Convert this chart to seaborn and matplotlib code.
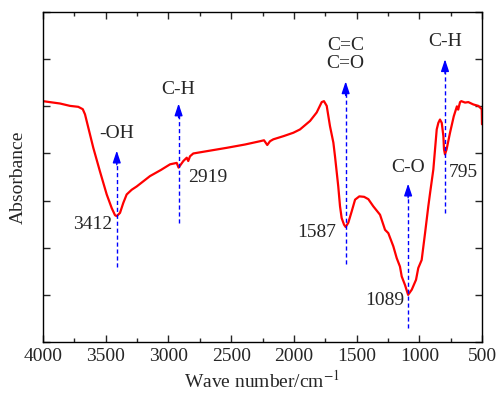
import matplotlib
matplotlib.use('Agg')
import matplotlib.pyplot as plt
from matplotlib.ticker import MultipleLocator, NullFormatter
import numpy as np
import pandas as pd
import seaborn as sns

# spectrum (wavenumber in cm-1, absorbance in arbitrary units)
wavenumber = [4000, 3864, 3785, 3719, 3683, 3665, 3639, 3599, 3546, 3492, 3452,
              3426, 3412, 3386, 3360, 3333, 3293, 3253, 3200, 3147, 3060, 2987,
              2934, 2919, 2881, 2854, 2842, 2828, 2802, 2669, 2535, 2390, 2270,
              2238, 2212, 2190, 2164, 2080, 2004, 1951, 1871, 1818, 1778, 1760,
              1738, 1712, 1685, 1672, 1646, 1632, 1619, 1600, 1587, 1566, 1539,
              1512, 1478, 1440, 1406, 1367, 1313, 1273, 1247, 1207, 1180, 1154,
              1140, 1114, 1089, 1060, 1026, 1008, 981, 954, 928, 914, 888, 861,
              848, 835, 821, 808, 803, 795, 782, 755, 725, 700, 690, 675, 665,
              635, 609, 569, 529, 502, 500]
absorbance = [5.11, 5.06, 5.01, 4.99, 4.94, 4.83, 4.55, 4.12, 3.62, 3.13, 2.84,
              2.69, 2.67, 2.74, 2.95, 3.13, 3.23, 3.30, 3.41, 3.52, 3.65, 3.77,
              3.80, 3.70, 3.84, 3.91, 3.84, 3.94, 4.00, 4.06, 4.12, 4.19, 4.26,
              4.28, 4.18, 4.26, 4.30, 4.37, 4.44, 4.51, 4.69, 4.87, 5.09, 5.11,
              5.01, 4.58, 4.23, 3.94, 3.30, 2.88, 2.63, 2.49, 2.44, 2.53, 2.77,
              3.02, 3.09, 3.08, 3.03, 2.88, 2.70, 2.38, 2.31, 2.03, 1.78, 1.60,
              1.39, 1.21, 1.00, 1.11, 1.32, 1.57, 1.74, 2.31, 2.88, 3.16, 3.66,
              4.51, 4.65, 4.72, 4.65, 4.37, 4.09, 3.98, 4.09, 4.44, 4.79, 5.00,
              4.93, 5.09, 5.11, 5.08, 5.09, 5.04, 5.01, 4.94, 4.62]

# marked peaks
peak_pos = [3412, 2919, 1587, 1089, 795]
peak_group = ['-OH', 'C-H', 'C=C\nC=O', 'C-O', 'C-H']

df = pd.DataFrame({'wn': wavenumber, 'abs': absorbance})

sns.set_theme(style='ticks')
plt.rcParams['font.family'] = ['Liberation Serif', 'DejaVu Serif']
plt.rcParams['mathtext.fontset'] = 'stix'

fig = plt.figure(figsize=(5, 4.03), dpi=100)
ax = fig.add_axes([0.086, 0.1514, 0.878, 0.8186])

sns.lineplot(data=df, x='wn', y='abs', color='#ff0000', linewidth=1.6, ax=ax,
             estimator=None, sort=False)

# layout of the annotations (line bottom, arrow tip, group label y, number label)
line_bottom = [1.60, 2.53, 1.66, 0.30, 2.74]
arrow_tip = [4.06, 5.06, 5.53, 3.36, 6.00]
group_y = [4.43, 5.36, 6.10, 3.70, 6.38]
num_xy = [(3450, 2.49, 'right'), (2844, 3.49, 'left'), (1664, 2.32, 'right'),
          (1122, 0.89, 'right'), (763, 3.60, 'left')]

for p, g, lb, tip, gy, (nx, ny, ha) in zip(peak_pos, peak_group, line_bottom,
                                           arrow_tip, group_y, num_xy):
    ax.plot([p, p], [lb, tip - 0.15], color='blue', lw=1, linestyle=(0, (3, 2)))
    ax.annotate('', xy=(p, tip), xytext=(p, tip - 0.3),
                arrowprops=dict(arrowstyle='-|>,head_length=0.6,head_width=0.2',
                                color='blue', lw=1, shrinkA=0, shrinkB=0))
    ax.text(p, gy, g, ha='center', va='center', fontsize=14, linespacing=1.15)
    ax.text(nx, ny, str(p), ha=ha, va='center', fontsize=14)

ax.set_xlim(4000, 500)
ax.set_ylim(0, 7)
ax.xaxis.set_major_locator(MultipleLocator(500))
ax.xaxis.set_minor_locator(MultipleLocator(250))
ax.yaxis.set_major_locator(MultipleLocator(1))
ax.yaxis.set_major_formatter(NullFormatter())
ax.tick_params(axis='both', which='major', direction='in', length=5, width=1,
               top=True, right=True, labelsize=14, pad=4)
ax.tick_params(axis='x', which='minor', direction='in', length=3, width=1,
               top=True)
for s in ax.spines.values():
    s.set_linewidth(1)
    s.set_color('black')

ax.set_xlabel('Wave number/cm$^{-1}$', fontsize=14, labelpad=4)
ax.set_ylabel('Absorbance', fontsize=14, labelpad=8)

fig.savefig('out.png', dpi=100)
